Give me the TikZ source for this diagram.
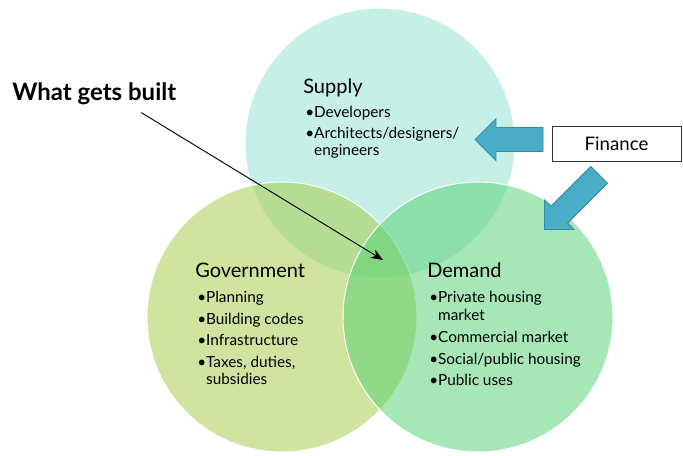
\documentclass[tikz,border=0pt]{standalone}
\usepackage{fontspec}
\setmainfont{Lato}
\usepackage{tikz}
\usetikzlibrary{shapes,arrows,arrows.meta,positioning}
\usepackage{xcolor}

\definecolor{supplyfill}{RGB}{141,224,208}
\definecolor{govfill}{RGB}{162,202,65}
\definecolor{demandfill}{RGB}{80,208,112}
\definecolor{financeblue}{RGB}{75,172,198}
\definecolor{financeedge}{RGB}{52,138,162}

\begin{document}
\begin{tikzpicture}[x=0.75pt, y=-0.75pt,
    set/.style={circle, minimum size=202.5pt, inner sep=0, fill opacity=0.5,
        draw=white, draw opacity=0.9, line width=0.8pt},
    title/.style={font=\fontsize{15}{18}\selectfont, anchor=base west, inner sep=0},
    items/.style={font=\fontsize{11.5}{12.75}\selectfont, anchor=north west,
        inner sep=0, align=left},
    fatarrow/.style={single arrow, fill=financeblue, draw=financeedge, line width=0.6pt,
        inner xsep=0, inner ysep=6pt, single arrow head extend=6.75pt,
        shape border uses incircle}]
    \useasboundingbox (0,0) rectangle (683,455);

    % Sets
    \node[set, fill=supplyfill] (supply) at (380,143) {};
    \node[set, fill=govfill] (gov) at (282,317) {};
    \node[set, fill=demandfill] (demand) at (478,317) {};

    % Supply
    \node[title] (supplyt) at (303,93) {Supply};
    \node[items] at (305,106) {\textbullet Developers\\[3pt]
        \textbullet Architects/designers/\\\hphantom{\textbullet}engineers};

    % Government
    \node[title] (govt) at (195,277) {Government};
    \node[items] at (197,291) {\textbullet Planning\\[3.5pt]
        \textbullet Building codes\\[3.5pt]
        \textbullet Infrastructure\\[3.5pt]
        \textbullet Taxes, duties,\\\hphantom{\textbullet}subsidies};

    % Demand
    \node[title] (demandt) at (427,277) {Demand};
    \node[items] at (429,291) {\textbullet Private housing\\[1pt]\hphantom{\textbullet}market\\[3.5pt]
        \textbullet Commercial market\\[3.5pt]
        \textbullet Social/public housing\\[3.5pt]
        \textbullet Public uses};

    % Finance
    \node[draw=black!80, fill=white, line width=0.6pt, minimum width=96.75pt,
        minimum height=26.25pt, font=\fontsize{14}{16}\selectfont] (finance) at (616.5,143.5) {Finance};
    \node[fatarrow, minimum height=51pt, shape border rotate=180] (tosupply) at (515,139.5) {};
    \node[fatarrow, minimum height=58pt, shape border rotate=225] (todemand) at (576,198) {};

    % What gets built
    \node[anchor=base west, inner sep=0, font=\fontsize{18}{21}\bfseries\selectfont] (built) at (12,100) {What gets built};
    \coordinate (core) at (383,260);
    \draw[-{Stealth[length=9pt,width=7pt]}, line width=0.7pt] ([shift={(47,8)}]built.south) -- (core);
\end{tikzpicture}
\end{document}
